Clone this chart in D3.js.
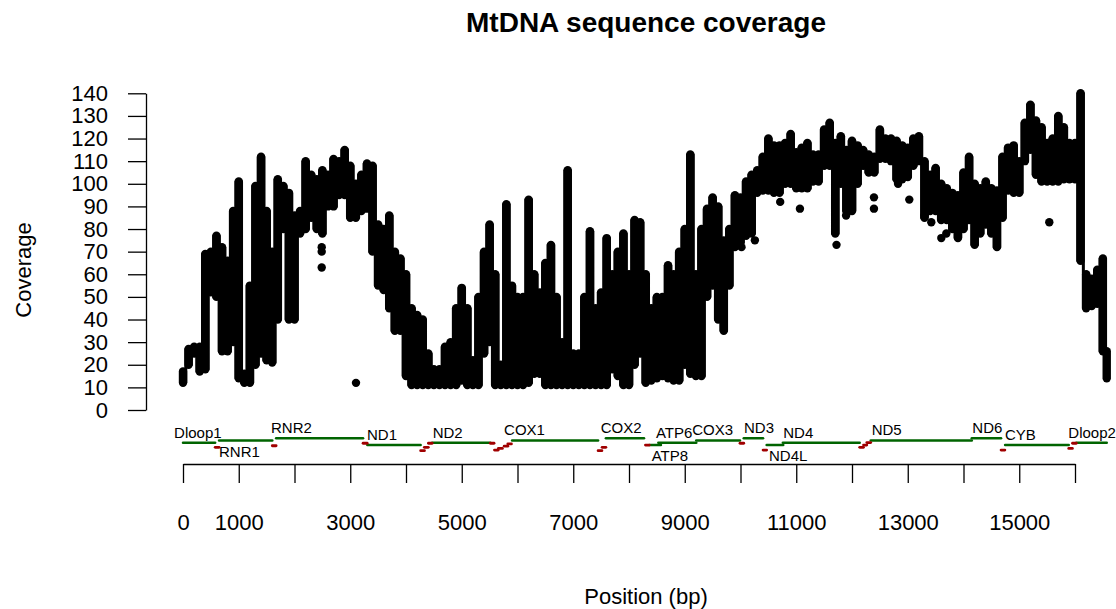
<!DOCTYPE html>
<html>
<head>
<meta charset="utf-8">
<script src="https://cdn.jsdelivr.net/npm/d3@7"></script>
<style>
  body { margin: 0; background: #fff; }
  svg { display: block; font-family: "Liberation Sans", Arial, Helvetica, sans-serif; }
</style>
</head>
<body>
<script>
// coverage, read per 100 bp bin as the lowest and highest point in the bin
const binPos = [
  0, 100, 200, 300, 400, 500, 600, 700, 800, 900,
  1000, 1100, 1200, 1300, 1400, 1500, 1600, 1700, 1800, 1900,
  2000, 2100, 2200, 2300, 2400, 2500, 2600, 2700, 2800, 2900,
  3000, 3100, 3200, 3300, 3400, 3500, 3600, 3700, 3800, 3900,
  4000, 4100, 4200, 4300, 4400, 4500, 4600, 4700, 4800, 4900,
  5000, 5100, 5200, 5300, 5400, 5500, 5600, 5700, 5800, 5900,
  6000, 6100, 6200, 6300, 6400, 6500, 6600, 6700, 6800, 6900,
  7000, 7100, 7200, 7300, 7400, 7500, 7600, 7700, 7800, 7900,
  8000, 8100, 8200, 8300, 8400, 8500, 8600, 8700, 8800, 8900,
  9000, 9100, 9200, 9300, 9400, 9500, 9600, 9700, 9800, 9900,
  10000, 10100, 10200, 10300, 10400, 10500, 10600, 10700, 10800, 10900,
  11000, 11100, 11200, 11300, 11400, 11500, 11600, 11700, 11800, 11900,
  12000, 12100, 12200, 12300, 12400, 12500, 12600, 12700, 12800, 12900,
  13000, 13100, 13200, 13300, 13400, 13500, 13600, 13700, 13800, 13900,
  14000, 14100, 14200, 14300, 14400, 14500, 14600, 14700, 14800, 14900,
  15000, 15100, 15200, 15300, 15400, 15500, 15600, 15700, 15800, 15900,
  16000, 16100, 16200, 16300, 16400, 16500, 16569
];
const covLo = [
  12, 20, 25, 17, 18, 52, 50, 26, 26, 30,
  14, 12, 12, 20, 25, 22, 21, 40, 80, 40,
  40, 78, 80, 85, 80, 78, 90, 90, 95, 95,
  85, 85, 88, 89, 70, 55, 53, 45, 35, 35,
  15, 11, 11, 11, 11, 11, 11, 11, 11, 11,
  13, 11, 11, 11, 25, 30, 11, 11, 11, 11,
  11, 11, 12, 16, 16, 11, 11, 11, 11, 11,
  11, 11, 11, 11, 11, 11, 11, 18, 15, 11,
  11, 20, 25, 12, 13, 14, 15, 14, 13, 13,
  20, 16, 15, 15, 50, 55, 40, 35, 55, 72,
  74, 77, 78, 96, 97, 97, 96, 96, 100, 100,
  98, 98, 98, 101, 101, 108, 108, 78, 100, 88,
  88, 100, 108, 105, 105, 111, 111, 110, 102, 102,
  103, 108, 110, 85, 88, 88, 84, 84, 80, 76,
  80, 84, 73, 78, 82, 78, 72, 85, 97, 96,
  96, 110, 115, 104, 101, 101, 101, 101, 102, 102,
  102, 66, 45, 46, 47, 26, 14
];
const covHi = [
  17, 27, 28, 28, 69, 70, 77, 72, 66, 88,
  101, 16, 55, 99, 112, 88, 70, 102, 99, 96,
  86, 88, 110, 104, 102, 106, 104, 111, 110, 115,
  108, 100, 104, 109, 108, 82, 80, 86, 70, 67,
  60, 45, 42, 40, 25, 18, 18, 28, 30, 45,
  54, 45, 22, 50, 70, 82, 60, 20, 91, 55,
  50, 50, 93, 60, 52, 65, 73, 50, 30, 106,
  25, 25, 50, 79, 45, 52, 76, 60, 70, 78,
  60, 84, 83, 60, 45, 50, 50, 64, 60, 70,
  80, 113, 60, 80, 89, 94, 90, 75, 80, 95,
  94, 101, 104, 106, 112, 120, 117, 117, 118, 122,
  114, 116, 118, 113, 113, 124, 127, 118, 121, 115,
  119, 117, 115, 113, 112, 124, 120, 120, 119, 117,
  116, 120, 121, 110, 104, 107, 100, 98, 96, 95,
  105, 112, 100, 98, 101, 98, 97, 112, 116, 117,
  110, 127, 135, 128, 125, 118, 120, 130, 125, 118,
  118, 140, 60, 58, 62, 67, 26
];
// stray points away from the main band
const strayPos = [2488, 2488, 2488, 3103, 10018, 10258, 10712, 11066, 11722, 11894,
  12394, 12394, 12826, 13028, 13302, 13422, 13602, 13692, 15539];
const strayCov = [72, 70, 63, 12, 72, 75, 92, 89, 73, 86,
  94, 89, 100, 93, 86, 83, 76, 78, 83];

// annotation track: genes (green) and tRNAs (red)
const geneNames = ["Dloop1", "RNR1", "RNR2", "ND1", "ND2", "COX1", "COX2", "ATP8", "ATP6",
  "COX3", "ND3", "ND4L", "ND4", "ND5", "ND6", "CYB", "Dloop2"];
const geneStart = [1, 648, 1671, 3307, 4470, 5904, 7586, 8366, 8527,
  9207, 10059, 10470, 10760, 12337, 14149, 14747, 16024];
const geneEnd = [576, 1601, 3229, 4262, 5511, 7445, 8269, 8572, 9207,
  9990, 10404, 10766, 12137, 14148, 14673, 15887, 16569];
const geneLevel = [-14.5, -13.5, -12.5, -15.5, -14.5, -13.5, -12.5, -15.5, -14.5,
  -13.5, -12.5, -15.5, -14.5, -13.5, -12.5, -15.5, -14.5];
const geneLabelAt = [-160, 646, 1578, 3300, 4479, 5760, 7492, 8407, 8484,
  9135, 10063, 10511, 10767, 12353, 14158, 14744, 15880];
const geneLabelSide = ["above", "below", "above", "above", "above", "above", "above", "below", "above",
  "above", "above", "below", "above", "above", "above", "above", "above"];

const trnaStart = [577, 1602, 3230, 4263, 4329, 4402, 5512, 5587, 5657, 5761, 5826,
  7446, 7518, 8295, 9991, 10405, 12138, 12207, 12266, 14674, 15888, 15956];
const trnaEnd = [647, 1670, 3304, 4331, 4400, 4469, 5579, 5655, 5729, 5826, 5891,
  7514, 7585, 8364, 10058, 10469, 12206, 12265, 12336, 14742, 15953, 16023];
const trnaLevel = [-16.5, -15.8, -14.7, -18, -16.5, -14.7, -14.7, -17.7, -17, -16, -15,
  -18, -16.5, -15.5, -14.7, -17.7, -16.5, -15.5, -14.4, -17.7, -17, -14.7];

const yTicks = [0, 10, 20, 30, 40, 50, 60, 70, 80, 90, 100, 110, 120, 130, 140];
const xTicks = [0, 1000, 2000, 3000, 4000, 5000, 6000, 7000, 8000, 9000, 10000,
  11000, 12000, 13000, 14000, 15000, 16000];
const xLabels = [0, 1000, 3000, 5000, 7000, 9000, 11000, 13000, 15000];

const w = 1116;
const h = 609;

const xScale = d3.scaleLinear().domain([0, 16000]).range([183, 1075]);
const yScale = d3.scaleLinear().domain([0, 140]).range([410, 93.3]);

const svg = d3.select('body')
  .append('svg')
  .attr('width', w)
  .attr('height', h);

// coverage band: a stepped area keeps the bins joined side by side,
// and a round-capped stroke per bin gives the rounded dot ends
const bins = binPos.map((p, i) => ({ pos: p, lo: covLo[i], hi: covHi[i] }));

const band = d3.area()
  .curve(d3.curveStep)
  .x(d => xScale(d.pos))
  .y0(d => yScale(d.lo))
  .y1(d => yScale(d.hi));

svg.append('path')
  .datum(bins)
  .attr('d', band)
  .attr('fill', '#000')
  .attr('stroke', '#000')
  .attr('stroke-width', 3)
  .attr('stroke-linejoin', 'round');

svg.append('g')
  .selectAll('line')
  .data(bins)
  .enter()
  .append('line')
  .attr('x1', d => xScale(d.pos))
  .attr('x2', d => xScale(d.pos))
  .attr('y1', d => yScale(d.lo))
  .attr('y2', d => yScale(d.hi))
  .attr('stroke', '#000')
  .attr('stroke-width', 8.4)
  .attr('stroke-linecap', 'round');

svg.append('g')
  .selectAll('circle')
  .data(strayPos)
  .enter()
  .append('circle')
  .attr('cx', d => xScale(d))
  .attr('cy', (d, i) => yScale(strayCov[i]))
  .attr('r', 4.2)
  .attr('fill', '#000');

// genes
const genes = geneNames.map((n, i) => ({
  name: n, start: geneStart[i], end: geneEnd[i], level: geneLevel[i],
  labelAt: geneLabelAt[i], side: geneLabelSide[i]
}));

svg.append('g')
  .selectAll('line')
  .data(genes)
  .enter()
  .append('line')
  .attr('x1', d => xScale(d.start))
  .attr('x2', d => xScale(d.end))
  .attr('y1', d => yScale(d.level))
  .attr('y2', d => yScale(d.level))
  .attr('stroke', '#006400')
  .attr('stroke-width', 2.6)
  .attr('stroke-linecap', 'round');

svg.append('g')
  .selectAll('text')
  .data(genes)
  .enter()
  .append('text')
  .attr('x', d => xScale(d.labelAt))
  .attr('y', d => yScale(d.level) + (d.side === 'above' ? -5.3 : 16))
  .attr('font-size', 15)
  .attr('fill', '#000')
  .text(d => d.name);

svg.append('g')
  .selectAll('line')
  .data(trnaStart)
  .enter()
  .append('line')
  .attr('x1', d => xScale(d))
  .attr('x2', (d, i) => xScale(trnaEnd[i]))
  .attr('y1', (d, i) => yScale(trnaLevel[i]))
  .attr('y2', (d, i) => yScale(trnaLevel[i]))
  .attr('stroke', '#a00000')
  .attr('stroke-width', 2.8)
  .attr('stroke-linecap', 'round');

// axes
const yAxis = d3.axisLeft(yScale)
  .tickValues(yTicks)
  .tickSize(18)
  .tickSizeOuter(0)
  .tickPadding(20);

const gy = svg.append('g')
  .attr('transform', 'translate(146, 0)')
  .call(yAxis);

const xAxis = d3.axisBottom(xScale)
  .tickValues(xTicks)
  .tickSize(19)
  .tickSizeOuter(0)
  .tickPadding(31)
  .tickFormat(d => xLabels.includes(d) ? d : '');

const gx = svg.append('g')
  .attr('transform', 'translate(0, 464)')
  .call(xAxis);

[gx, gy].forEach(g => {
  g.selectAll('path, line').attr('stroke', '#000').attr('stroke-width', 1.3);
  g.selectAll('text').attr('font-size', 22).attr('fill', '#000')
    .attr('font-family', '"Liberation Sans", Arial, sans-serif');
});

// titles
svg.append('text')
  .attr('x', 646)
  .attr('y', 32)
  .attr('text-anchor', 'middle')
  .attr('font-size', 28)
  .attr('font-weight', 'bold')
  .text('MtDNA sequence coverage');

svg.append('text')
  .attr('x', 646)
  .attr('y', 604)
  .attr('text-anchor', 'middle')
  .attr('font-size', 22)
  .text('Position (bp)');

svg.append('text')
  .attr('transform', 'translate(31, 270) rotate(-90)')
  .attr('text-anchor', 'middle')
  .attr('font-size', 22)
  .text('Coverage');
</script>
</body>
</html>
